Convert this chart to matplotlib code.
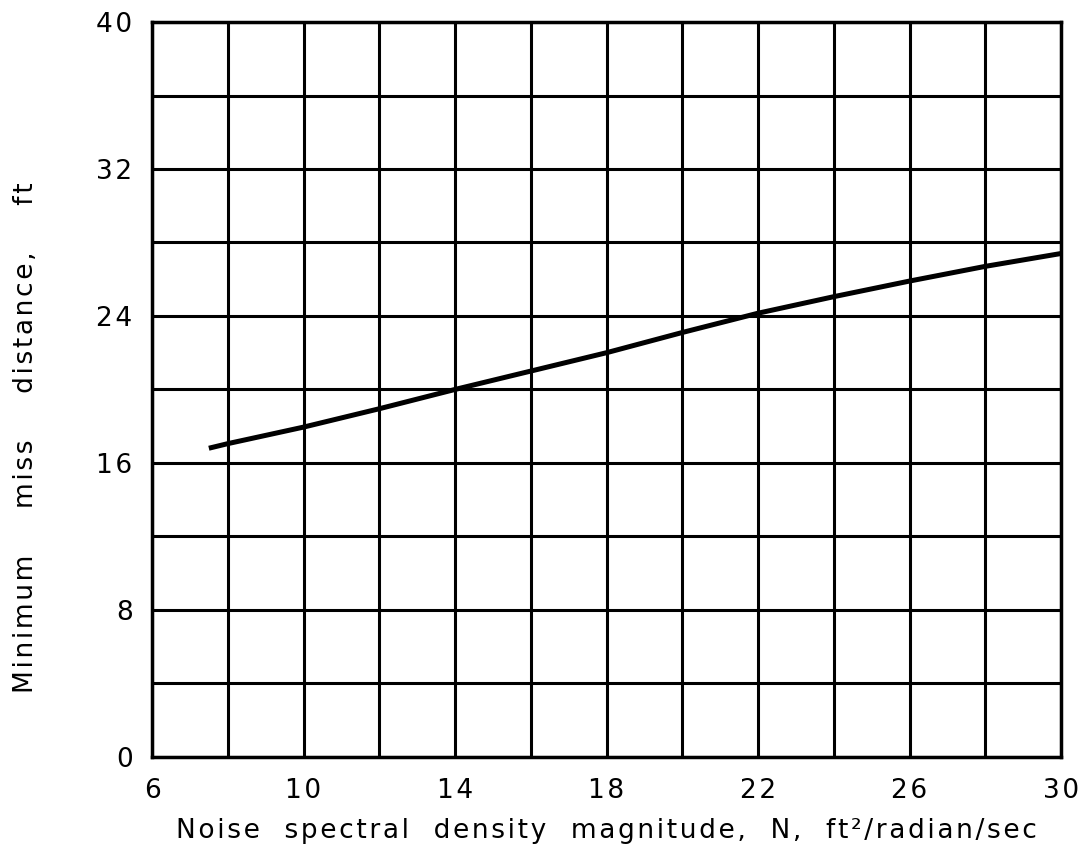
import matplotlib
matplotlib.use("Agg")
import matplotlib.pyplot as plt
import numpy as np

# curve
noise_n = [7.5, 8, 10, 12, 14, 16, 18, 20, 22, 24, 26, 28, 30]
miss_dist = [16.8, 17.05, 17.95, 18.95, 20.0, 21.0, 22.0, 23.1, 24.15, 25.05, 25.9, 26.7, 27.4]

x_labels = [6, 10, 14, 18, 22, 26, 30]
y_labels = [0, 8, 16, 24, 32, 40]

plt.rcParams['font.family'] = ['DejaVu Sans']


def spaced(s):
    # imitate the wide lettering of the original with hair spaces
    return '\u200a'.join(s)


fig = plt.figure(figsize=(10.86, 8.64), dpi=100)
ax = fig.add_axes([0.14, 0.124, 0.837, 0.8505])

ax.plot(noise_n, miss_dist, color='black', lw=3.6, solid_capstyle='butt',
        solid_joinstyle='round', zorder=3)

ax.set_xlim(6, 30)
ax.set_ylim(0, 40)

# grid every 2 in x and every 4 in y
for gx in np.arange(6, 31, 2):
    ax.axvline(gx, color='black', lw=2.2, zorder=1)
for gy in np.arange(0, 41, 4):
    ax.axhline(gy, color='black', lw=2.2, zorder=1)

ax.set_xticks(x_labels)
ax.set_xticklabels([spaced(str(v)) for v in x_labels], fontsize=19)
ax.set_yticks(y_labels)
ax.set_yticklabels([spaced(str(v)) for v in y_labels], fontsize=19)
ax.tick_params(axis='x', length=0, pad=15)
ax.tick_params(axis='y', length=0, pad=14)

for s in ax.spines.values():
    s.set_linewidth(2.5)

ax.set_xlabel(spaced("Noise  spectral  density  magnitude,  N,  ft\u00b2/radian/sec"),
              fontsize=19, labelpad=10)
ax.set_ylabel(spaced("Minimum    miss    distance,    ft"), fontsize=19)
ax.yaxis.set_label_coords(-0.124, 0.435)

plt.savefig("out.png", dpi=100)
